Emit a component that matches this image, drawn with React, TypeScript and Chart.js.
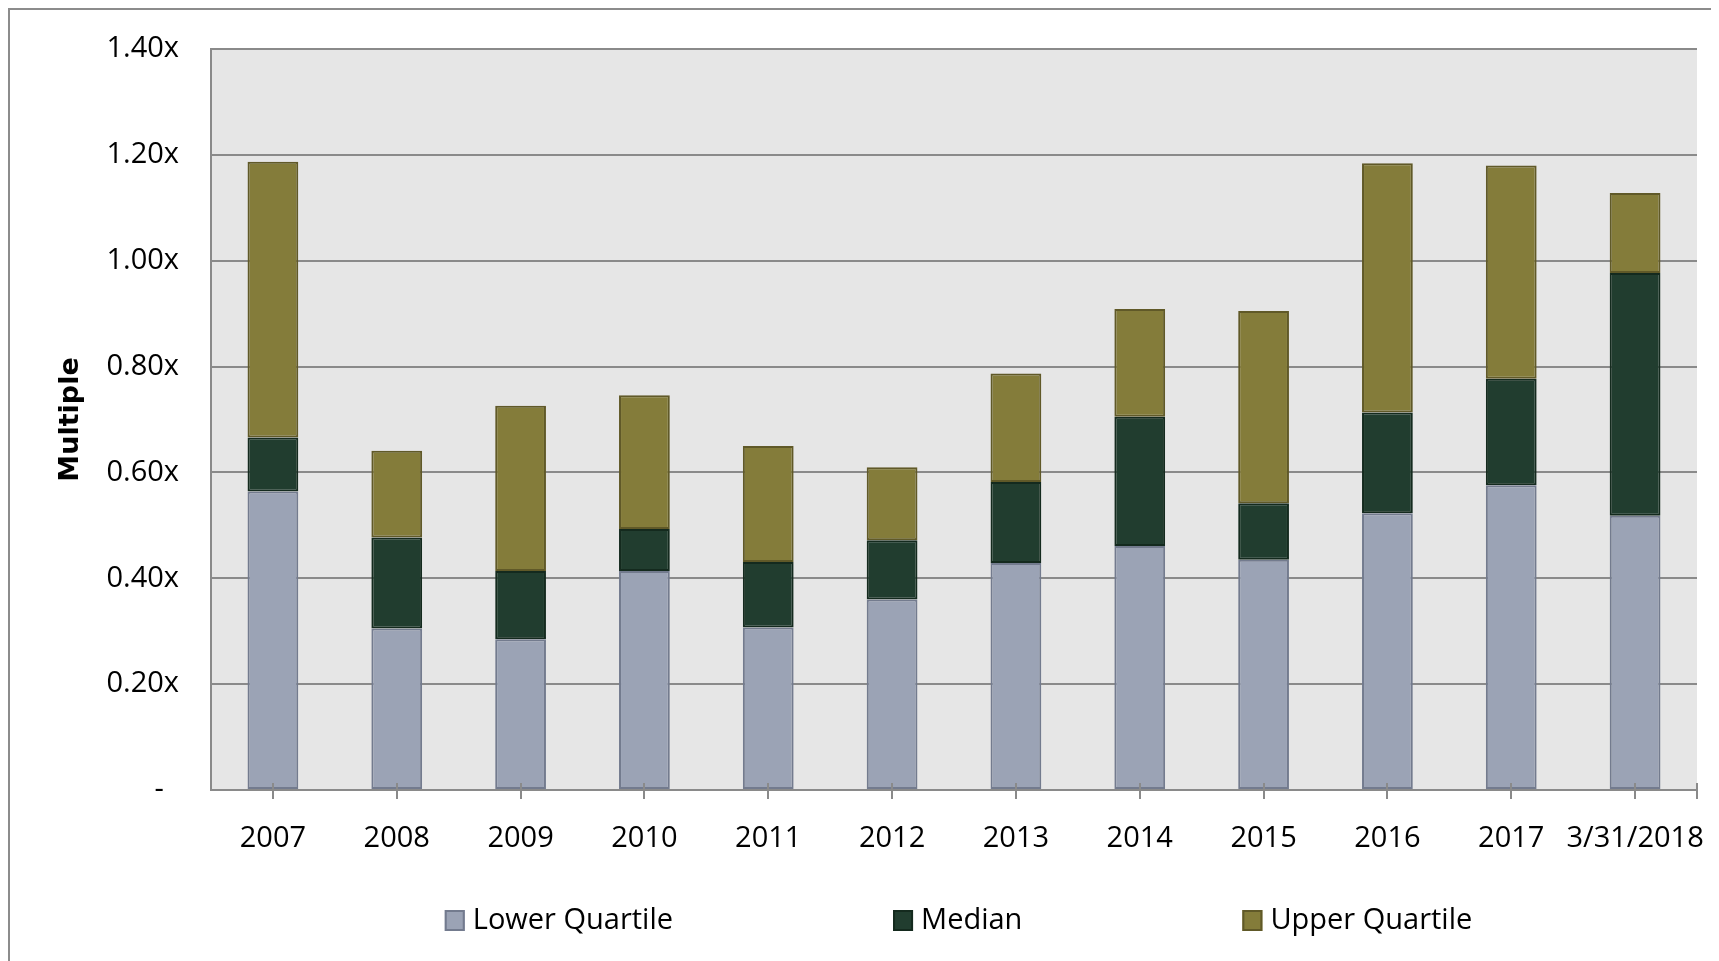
import React, { useEffect, useRef } from 'react';
import { Chart, registerables } from 'chart.js';

Chart.register(...registerables);

const categories = ['2007', '2008', '2009', '2010', '2011', '2012', '2013', '2014', '2015', '2016', '2017', '3/31/2018'];
const lowerQuartile = [0.564, 0.305, 0.285, 0.414, 0.307, 0.360, 0.429, 0.461, 0.435, 0.523, 0.576, 0.518];
const median = [0.666, 0.477, 0.414, 0.493, 0.431, 0.472, 0.582, 0.705, 0.542, 0.713, 0.777, 0.977];
const upperQuartile = [1.187, 0.641, 0.726, 0.746, 0.650, 0.610, 0.787, 0.909, 0.905, 1.184, 1.180, 1.128];
const yTickLabels = ['-  ', '0.20x', '0.40x', '0.60x', '0.80x', '1.00x', '1.20x', '1.40x'];
const seriesNames = ['Lower Quartile', 'Median', 'Upper Quartile'];
const yAxisTitle = 'Multiple';

const FILLS = ['#9ba3b5', '#213d2f', '#847c3a'];
const BORDERS = ['#737b8e', '#142a1e', '#605928'];
const GRID = '#8a8a8a';
const FONT = '"Open Sans", "Noto Sans", sans-serif';

const W = 1709;
const H = 951;

const bgPlugin = {
  id: 'plotBg',
  beforeDraw(chart: any) {
    const { ctx, chartArea: ca } = chart;
    ctx.save();
    ctx.fillStyle = '#e6e6e6';
    ctx.fillRect(ca.left, ca.top, ca.right - ca.left, ca.bottom - ca.top);
    ctx.restore();
  },
};

const tickPlugin = {
  id: 'crossTicks',
  afterDatasetsDraw(chart: any) {
    const { ctx, chartArea: ca } = chart;
    const xs = chart.scales.x;
    ctx.save();
    ctx.strokeStyle = GRID;
    ctx.lineWidth = 2;
    const xsPos: number[] = categories.map((_, i) => xs.getPixelForValue(i));
    xsPos.push(ca.right);
    ctx.beginPath();
    xsPos.forEach((x) => {
      const px = Math.round(x);
      ctx.moveTo(px, ca.bottom - 7);
      ctx.lineTo(px, ca.bottom + 9);
    });
    ctx.stroke();
    ctx.restore();
  },
};

const legendPlugin = {
  id: 'customLegend',
  afterDraw(chart: any) {
    const { ctx, chartArea: ca } = chart;
    ctx.save();
    ctx.font = `29px ${FONT}`;
    const box = 20;
    const gapText = 8;
    const gapItem = 220;
    const items = chart.data.datasets.map((ds: any) => ({
      text: ds.label,
      fill: ds.backgroundColor,
      stroke: ds.borderColor,
      w: box + gapText + ctx.measureText(ds.label).width,
    }));
    const total = items.reduce((a: number, it: any) => a + it.w, 0) + gapItem * (items.length - 1);
    let x = (ca.left + ca.right) / 2 + 4.5 - total / 2;
    const cy = chart.height - 40.5;
    items.forEach((it: any) => {
      ctx.fillStyle = it.fill;
      ctx.fillRect(x, cy - 10.5, box, 21);
      ctx.strokeStyle = it.stroke;
      ctx.lineWidth = 2;
      ctx.strokeRect(x + 1, cy - 9.5, box - 2, 19);
      ctx.fillStyle = '#000';
      ctx.textAlign = 'left';
      ctx.textBaseline = 'middle';
      ctx.fillText(it.text, x + box + gapText, cy);
      x += it.w + gapItem;
    });
    ctx.restore();
  },
};

export default function App() {
  const ref = useRef<HTMLCanvasElement>(null);

  useEffect(() => {
    if (!ref.current) return;
    const medSeg = median.map((v, i) => +(v - lowerQuartile[i]).toFixed(4));
    const upSeg = upperQuartile.map((v, i) => +(v - median[i]).toFixed(4));
    const segs = [lowerQuartile, medSeg, upSeg];
    const chart = new Chart(ref.current, {
      type: 'bar',
      data: {
        labels: categories,
        datasets: seriesNames.map((name, k) => ({
          label: name,
          data: segs[k],
          backgroundColor: FILLS[k],
          borderColor: BORDERS[k],
          borderWidth: 2,
          borderSkipped: false,
          categoryPercentage: 1,
          barPercentage: 0.41,
        })),
      },
      options: {
        animation: false,
        responsive: false,
        events: [],
        layout: { padding: { top: 39, right: 22, left: 0, bottom: 0 } },
        plugins: {
          legend: { display: false },
          tooltip: { enabled: false },
        },
        scales: {
          x: {
            stacked: true,
            offset: true,
            grid: { display: true, drawOnChartArea: false, drawTicks: false },
            border: { display: true, color: GRID, width: 2 },
            ticks: {
              color: '#000',
              font: { family: FONT, size: 29 },
              padding: 31,
              maxRotation: 0,
              autoSkip: false,
            },
            afterFit(s: any) {
              s.height = 171;
              s.paddingLeft = 0;
              s.paddingRight = 0;
            },
          },
          y: {
            stacked: true,
            min: 0,
            max: 1.4,
            ticks: {
              stepSize: 0.2,
              color: '#000',
              font: { family: FONT, size: 29 },
              padding: 32,
              callback: (_v: any, i: number) => yTickLabels[i],
            },
            grid: { color: GRID, lineWidth: 2, drawTicks: false },
            border: { display: true, color: GRID, width: 2 },
            title: {
              display: true,
              text: yAxisTitle,
              color: '#000',
              font: { family: '"DejaVu Sans", sans-serif', size: 27, weight: 'bold' },
              padding: { top: 45, bottom: 0 },
            },
            afterFit(s: any) {
              s.width = 201;
              s.paddingTop = 0;
              s.paddingBottom = 0;
            },
          },
        },
      },
      plugins: [bgPlugin, tickPlugin, legendPlugin],
    } as any);
    return () => chart.destroy();
  }, []);

  return (
    <div
      style={{
        position: 'relative',
        width: 1711,
        height: 953,
        boxSizing: 'border-box',
        borderTop: '2px solid #8c8c8c',
        borderLeft: '2px solid #8c8c8c',
        overflow: 'hidden',
      }}
    >
      <canvas ref={ref} width={W} height={H} style={{ display: 'block', width: W, height: H }} />
    </div>
  );
}
